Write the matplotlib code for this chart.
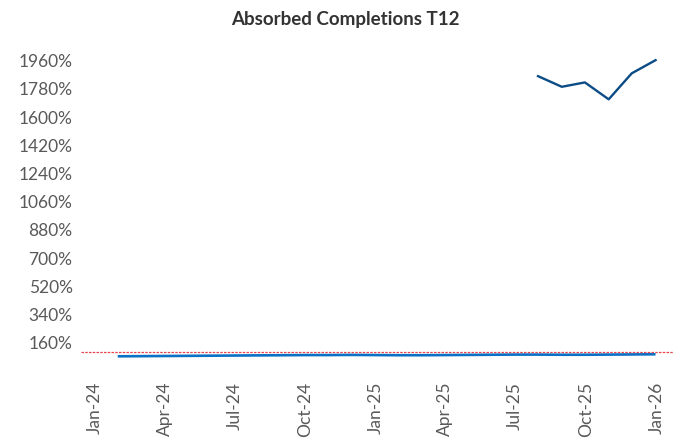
import numpy as np
import pandas as pd
import matplotlib
matplotlib.use("Agg")
import matplotlib.pyplot as plt
import matplotlib.dates as mdates
from matplotlib.ticker import FixedLocator, FuncFormatter

# month end dates Jan-24 .. Dec-25
months = pd.date_range("2024-01-31", "2025-12-31", freq="ME")
absorbed = [73, 74, 75, 76, 77, 78, 79, 80, 81, 81, 82, 81,
            80, 80, 81, 82, 83, 84, 84, 83, 83, 84, 85, 86]
upper_months = pd.date_range("2025-07-31", "2025-12-31", freq="ME")
upper_vals = [1862, 1794, 1822, 1714, 1880, 1964]
target = 100
yticks = [160, 340, 520, 700, 880, 1060, 1240, 1420, 1600, 1780, 1960]
xticks = pd.date_range("2024-01-01", "2026-01-01", freq="3MS")

plt.rcParams['font.family'] = ['Lato', 'DejaVu Sans']
grey = "#595959"

fig = plt.figure(figsize=(6.74, 4.41), dpi=100)
ax = fig.add_axes([0.120, 0.159, 0.880, 0.728])

ax.plot(months, absorbed, color="#0A70C6", lw=1.9, solid_capstyle="butt")
ax.plot(upper_months, upper_vals, color="#0C4C86", lw=1.7)
ax.axhline(target, color="#E8454A", lw=0.9, ls=(0, (2, 1)))

ax.set_ylim(-20, 2030)
ax.set_xlim(pd.Timestamp("2023-12-14"), pd.Timestamp("2026-01-24"))
ax.yaxis.set_major_locator(FixedLocator(yticks))
ax.yaxis.set_major_formatter(FuncFormatter(lambda v, p: "%d%%" % v))
ax.set_xticks(xticks)
ax.xaxis.set_major_formatter(mdates.DateFormatter("%b-%y"))
plt.setp(ax.get_xticklabels(), rotation=90)

ax.tick_params(axis="both", length=0, labelsize=12.5, colors=grey)
ax.tick_params(axis="x", pad=8)
ax.tick_params(axis="y", pad=6)
for s in ax.spines.values():
    s.set_visible(False)

fig.text(0.513, 0.955, "Absorbed Completions T12", ha="center", va="center",
         fontsize=13.5, fontweight="bold", color="#333333")

fig.savefig("out.png", dpi=100)
